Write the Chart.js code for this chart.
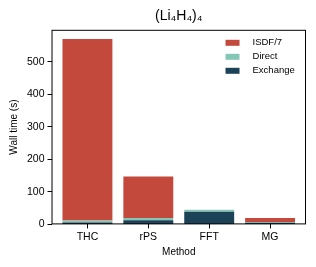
<!DOCTYPE html>
<html>
<head>
<meta charset="utf-8">
<script src="https://cdn.jsdelivr.net/npm/chart.js@4.4.1/dist/chart.umd.min.js"></script>
<style>
  body { margin: 0; background: #fff; }
  #wrap { width: 316px; height: 267px; }
</style>
</head>
<body>
<div id="wrap"><canvas id="c"></canvas></div>
<script>
// data
const methods = ['THC', 'rPS', 'FFT', 'MG'];
const exchange = [6, 12.5, 39, 5];
const direct = [6, 7, 6, 2];
const isdf7 = [558, 128, 0, 12.5];
const yTicks = [0, 100, 200, 300, 400, 500];

const FONT = 'Liberation Sans, Arial, Helvetica, sans-serif';

const toPts = arr => arr.map((v, i) => ({ x: i, y: v }));

// box around the plot + legend inside it
const framePlugin = {
  id: 'frame',
  afterDatasetsDraw(chart) {
    const { ctx, chartArea: a } = chart;
    ctx.save();
    ctx.strokeStyle = '#000';
    ctx.lineWidth = 1;
    ctx.strokeRect(a.left + 0.5, a.top + 0.5, a.right - a.left - 1, a.bottom - a.top - 1);

    // legend, top right, reversed order
    const items = chart.data.datasets.slice().reverse();
    ctx.font = '9.5px ' + FONT;
    ctx.textBaseline = 'middle';
    items.forEach((ds, i) => {
      const y = a.top + 13 + i * 14;
      ctx.fillStyle = ds.backgroundColor;
      ctx.fillRect(a.left + 174, y - 3, 14, 6);
      ctx.fillStyle = '#000';
      ctx.fillText(ds.label, a.left + 201, y);
    });
    ctx.restore();
  }
};

new Chart(document.getElementById('c'), {
  type: 'bar',
  data: {
    datasets: [
      { label: 'Exchange', data: toPts(exchange), backgroundColor: '#1c4257' },
      { label: 'Direct', data: toPts(direct), backgroundColor: '#86c6b7' },
      { label: 'ISDF/7', data: toPts(isdf7), backgroundColor: '#c4493d' }
    ]
  },
  options: {
    responsive: true,
    maintainAspectRatio: false,
    animation: false,
    layout: { padding: { top: 3, right: 10, left: 8, bottom: 9 } },
    datasets: {
      bar: {
        barPercentage: 0.82,
        categoryPercentage: 1,
        borderWidth: 0
      }
    },
    plugins: {
      legend: { display: false },
      tooltip: { enabled: false },
      title: {
        display: true,
        text: '(Li₄H₄)₄',
        fullSize: false,
        color: '#000',
        font: { family: FONT, size: 14, weight: 'normal' },
        padding: { top: 5, bottom: 5 }
      }
    },
    scales: {
      x: {
        type: 'linear',
        stacked: true,
        offset: false,
        min: -0.59,
        max: 3.59,
        afterBuildTicks: s => { s.ticks = methods.map((m, i) => ({ value: i })); },
        ticks: {
          callback: v => methods[v],
          color: '#000',
          font: { family: FONT, size: 10.5 },
          padding: 2,
          maxRotation: 0
        },
        grid: { offset: false, drawOnChartArea: false, drawTicks: true, tickLength: 4, color: '#000' },
        border: { display: false },
        title: {
          display: true,
          text: 'Method',
          color: '#000',
          font: { family: FONT, size: 10 },
          padding: { top: 1, bottom: 0 }
        }
      },
      y: {
        stacked: true,
        min: 0,
        max: 598,
        afterBuildTicks: s => { s.ticks = yTicks.map(v => ({ value: v })); },
        ticks: {
          color: '#000',
          font: { family: FONT, size: 10.5 },
          padding: 3
        },
        grid: { offset: false, drawOnChartArea: false, drawTicks: true, tickLength: 4, color: '#000' },
        border: { display: false },
        title: {
          display: true,
          text: 'Wall time (s)',
          color: '#000',
          font: { family: FONT, size: 10 },
          padding: { top: 0, bottom: 4 }
        }
      }
    }
  },
  plugins: [framePlugin]
});
</script>
</body>
</html>
